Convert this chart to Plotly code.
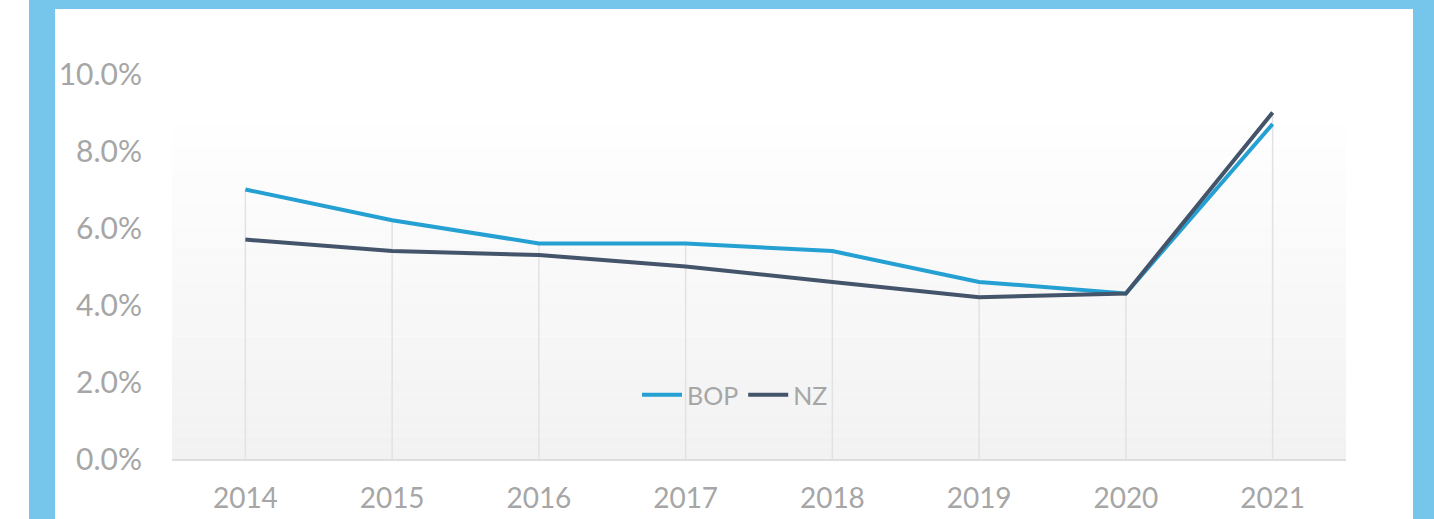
import plotly.graph_objects as go

years = ["2014", "2015", "2016", "2017", "2018", "2019", "2020", "2021"]
bop = [0.070, 0.062, 0.056, 0.056, 0.054, 0.046, 0.043, 0.087]
nz = [0.057, 0.054, 0.053, 0.050, 0.046, 0.042, 0.043, 0.090]
y_ticks = [0.0, 0.02, 0.04, 0.06, 0.08, 0.10]

W, H = 1434, 519
L, R, T, B = 172, 1346, 74, 459  # plot area pixel bounds


def px(x):
    return (x - L) / (R - L)


def py(y):
    return (B - y) / (B - T)


fig = go.Figure()

# drop lines from the higher series value down to the axis
dx, dy = [], []
for yr, a, b in zip(years, bop, nz):
    dx += [yr, yr, None]
    dy += [0, max(a, b), None]
fig.add_trace(go.Scatter(x=dx, y=dy, mode="lines", line=dict(color="#e2e2e2", width=1.5),
                         showlegend=False, hoverinfo="skip"))

fig.add_trace(go.Scatter(x=years, y=bop, mode="lines", name="BOP",
                         line=dict(color="#24a0d3", width=4)))
fig.add_trace(go.Scatter(x=years, y=nz, mode="lines", name="NZ",
                         line=dict(color="#44546a", width=4)))

shapes = []
# plot area gradient background
n = 30
top = py(125)
for i in range(n):
    f = i / (n - 1)
    c = int(round(242 + (254 - 242) * f))
    shapes.append(dict(type="rect", xref="paper", yref="paper", layer="below",
                       x0=0, x1=1, y0=top * i / n, y1=top * (i + 1) / n,
                       fillcolor=f"rgb({c},{c},{c})", line=dict(width=0)))
# light blue frame
frame = "#75c6ea"
for (x0, y0, x1, y1) in [(29, 0, 55, H), (29, 0, W, 9), (1413, 0, W, H)]:
    shapes.append(dict(type="rect", xref="paper", yref="paper", layer="above",
                       x0=px(x0), x1=px(x1), y0=py(y1), y1=py(y0),
                       fillcolor=frame, line=dict(width=0)))

fig.update_layout(
    width=W, height=H, autosize=False,
    margin=dict(l=L, r=W - R, t=T, b=H - B, pad=0, autoexpand=False),
    paper_bgcolor="white", plot_bgcolor="rgba(0,0,0,0)",
    font=dict(family="Lato, 'Open Sans', sans-serif", color="#a6a6a6", size=28),
    shapes=shapes,
    showlegend=True,
    hovermode=False,
    legend=dict(orientation="h", x=px(735), y=py(395), xanchor="center", yanchor="middle",
                bgcolor="rgba(0,0,0,0)", font=dict(size=25, color="#a6a6a6"),
                itemwidth=40, tracegroupgap=0),
    xaxis=dict(type="category", range=[-0.5, len(years) - 0.5], showgrid=False,
               showline=True, linecolor="#dedede", linewidth=1.5, ticks="",
               ticklabelstandoff=14, tickfont=dict(size=28), zeroline=False,
               automargin=False),
    yaxis=dict(range=[0, 0.10], tickvals=y_ticks, tickformat=".1%", showgrid=False,
               showline=False, zeroline=False, ticks="", ticklabelstandoff=29,
               tickfont=dict(size=30), automargin=False),
)

fig.write_html("out.html", post_script="document.body.style.margin='0';",
               config={"displayModeBar": False})
